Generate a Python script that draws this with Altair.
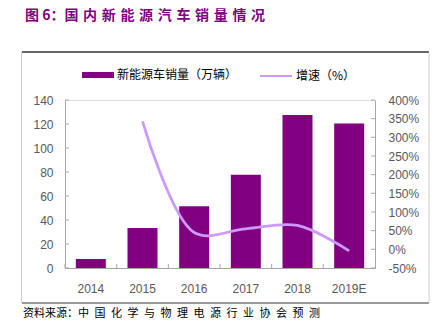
import altair as alt
import pandas as pd

# ---- data ----
years = ["2014", "2015", "2016", "2017", "2018", "2019E"]
sales = [7.5, 33.3, 51.4, 77.7, 127.5, 120.5]          # 新能源车销量（万辆）
growth = [None, 343, 45, 55, 64, -4]                     # 增速（%）
sales_name = "新能源车销量（万辆）"
growth_name = "增速（%）"
left_ticks = [0, 20, 40, 60, 80, 100, 120, 140]
right_ticks = [-50, 0, 50, 100, 150, 200, 250, 300, 350, 400]
title_head = "图 6："
title_body = "国内新能源汽车销量情况"
source_head = "资料来源："
source_body = "中国化学与物理电源行业协会预测"

# ---- styling ----
PURPLE = "#800080"
LILAC = "#CC99FF"
AXIS_GREY = "#A6A6A6"
LABEL_GREY = "#595959"
NUM_FONT = "Liberation Sans"
CJK_FONT = "Noto Sans CJK SC"
W, H = 310, 168

df = pd.DataFrame({
    "year": years,
    "sales": sales,
    "growth": growth,
    "s1": [sales_name] * len(years),
    "s2": [growth_name] * len(years),
})
lt = pd.DataFrame({"v": left_ticks})
rt = pd.DataFrame({"v": right_ticks})
one = pd.DataFrame({"a": [0]})

x_scale = alt.Scale(domain=years, paddingInner=0, paddingOuter=0)
x_axis = alt.Axis(title=None, labelAngle=0, ticks=False, tickSize=0, domainColor=AXIS_GREY,
                  labelFont=NUM_FONT, labelFontSize=12, labelColor=LABEL_GREY, labelPadding=15,
                  grid=False)
yl_scale = alt.Scale(domain=[0, 140], nice=False, zero=False)
yl_axis = alt.Axis(title=None, values=left_ticks, ticks=False, tickSize=0, domainColor=AXIS_GREY,
                   labelFont=NUM_FONT, labelFontSize=12, labelColor=LABEL_GREY, labelPadding=12,
                   grid=False, orient="left")
yr_scale = alt.Scale(domain=[-50, 400], nice=False, zero=False)
yr_axis = alt.Axis(title=None, values=right_ticks, ticks=False, tickSize=0, domainColor=AXIS_GREY,
                   labelFont=NUM_FONT, labelFontSize=12, labelColor=LABEL_GREY, labelPadding=13,
                   grid=False, orient="right", labelExpr="datum.value + '%'")

bars = alt.Chart(df).mark_bar(size=30).encode(
    x=alt.X("year:N", scale=x_scale, axis=x_axis, sort=years),
    y=alt.Y("sales:Q", scale=yl_scale, axis=yl_axis),
    fill=alt.Fill("s1:N", scale=alt.Scale(range=[PURPLE]),
                  legend=alt.Legend(orient="none", legendX=17, legendY=-41, title=None,
                                    direction="horizontal", padding=0,
                                    symbolType="M-1,-0.19L1,-0.19L1,0.19L-1,0.19Z",
                                    symbolSize=1024, symbolStrokeWidth=0,
                                    labelFont=CJK_FONT, labelFontSize=12, labelColor="#000000",
                                    labelOffset=3)),
)
lticks = alt.Chart(lt).mark_rule(color=AXIS_GREY).encode(
    y=alt.Y("v:Q", scale=yl_scale, axis=yl_axis),
    x=alt.value(0), x2=alt.value(4),
)
left_group = alt.layer(bars, lticks)

line = alt.Chart(df).mark_line(interpolate="catmull-rom", strokeWidth=2.75).encode(
    x=alt.X("year:N", scale=x_scale, axis=x_axis, sort=years),
    y=alt.Y("growth:Q", scale=yr_scale, axis=yr_axis),
    stroke=alt.Stroke("s2:N", scale=alt.Scale(range=[LILAC]),
                      legend=alt.Legend(orient="none", legendX=194, legendY=-41, title=None,
                                        direction="horizontal", padding=0,
                                        symbolType="stroke", symbolSize=1024,
                                        symbolStrokeWidth=2,
                                        labelFont=CJK_FONT, labelFontSize=12, labelColor="#000000",
                                        labelOffset=3)),
)
rticks = alt.Chart(rt).mark_rule(color=AXIS_GREY).encode(
    y=alt.Y("v:Q", scale=yr_scale, axis=yr_axis),
    x=alt.value(W - 4), x2=alt.value(W),
)
right_group = alt.layer(line, rticks)

xticks = alt.Chart(df).mark_rule(color=AXIS_GREY).encode(
    x=alt.X("year:N", scale=x_scale, axis=x_axis, sort=years, bandPosition=0),
    y=alt.value(H - 4), y2=alt.value(H),
)

title_display = title_head + "\u2004".join(title_body)
source_display = source_head + "\u2002".join(source_body)

title_mark = alt.Chart(one).mark_text(align="left", baseline="middle", font=CJK_FONT,
                                      fontSize=14, fontWeight="bold", color=PURPLE).encode(
    x=alt.value(-40), y=alt.value(-84), text=alt.value(title_display))
source_mark = alt.Chart(one).mark_text(align="left", baseline="middle", font=CJK_FONT,
                                       fontSize=11, color="#000000").encode(
    x=alt.value(-42), y=alt.value(214), text=alt.value(source_display))
top_line = alt.Chart(one).mark_rule(color="#666666", strokeWidth=2).encode(
    x=alt.value(-43), x2=alt.value(364), y=alt.value(-48))
bottom_line = alt.Chart(one).mark_rule(color="#777777", strokeWidth=1.5).encode(
    x=alt.value(-43), x2=alt.value(364), y=alt.value(203))
left_line = alt.Chart(one).mark_rule(color="#CCCCCC", strokeWidth=1).encode(
    x=alt.value(-43.5), y=alt.value(-48), y2=alt.value(203))
right_line = alt.Chart(one).mark_rule(color="#CCCCCC", strokeWidth=1).encode(
    x=alt.value(364), y=alt.value(-48), y2=alt.value(203))

chart = alt.layer(
    left_group, right_group, xticks,
    top_line, bottom_line, left_line, right_line, title_mark, source_mark,
).resolve_scale(
    y="independent", fill="independent", stroke="independent"
).properties(
    width=W, height=H,
    autosize=alt.AutoSizeParams(type="none"),
    padding={"left": 65, "top": 100, "right": 60, "bottom": 67},
).configure_view(stroke=None).configure(background="white")

chart.save("out.html", embed_options={"renderer": "svg", "actions": False})
